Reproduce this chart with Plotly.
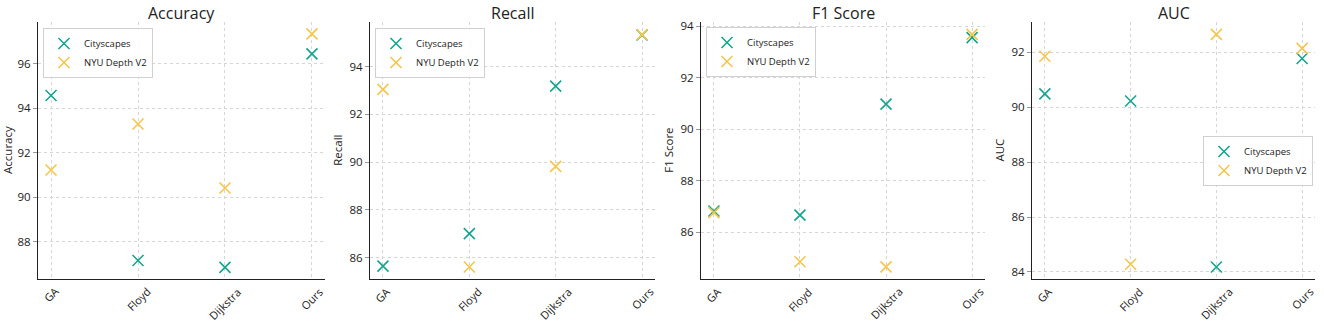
import plotly.graph_objects as go

categories = ["GA", "Floyd", "Dijkstra", "Ours"]
metrics = ["Accuracy", "Recall", "F1 Score", "AUC"]
series_names = ["Cityscapes", "NYU Depth V2"]

accuracy_city = [94.58, 87.16, 86.85, 96.45]
accuracy_nyu = [91.23, 93.30, 90.42, 97.35]
recall_city = [85.64, 87.00, 93.19, 95.33]
recall_nyu = [93.05, 85.60, 89.82, 95.35]
f1_city = [86.82, 86.66, 90.97, 93.55]
f1_nyu = [86.76, 84.85, 84.65, 93.68]
auc_city = [90.49, 90.23, 84.18, 91.78]
auc_nyu = [91.86, 84.28, 92.66, 92.15]

y_ranges = [[86.35, 97.9], [85.12, 95.89], [84.2, 94.17], [83.76, 93.12]]

data = [(accuracy_city, accuracy_nyu), (recall_city, recall_nyu),
        (f1_city, f1_nyu), (auc_city, auc_nyu)]

colors = ["#14a58f", "#f6c54b"]
W, H = 1325, 323
x_px = [(38, 325), (370, 655), (701, 985), (1032, 1315)]
y_bot, y_top = 278.5, 21.7
y_dom = [1 - y_bot / H, 1 - y_top / H]
legend_pos = [(43, 28, "left"), (375, 28, "left"), (706, 27, "left"), (1313, 136, "right")]

fig = go.Figure()
font_family = "Open Sans, DejaVu Sans, sans-serif"
grid_col = "#d6d6d6"

for i, (metric, (cs, ny)) in enumerate(zip(metrics, data)):
    n = "" if i == 0 else str(i + 1)
    leg = "legend" if i == 0 else f"legend{i + 1}"
    for name, vals, col in zip(series_names, (cs, ny), colors):
        fig.add_trace(go.Scatter(
            x=categories, y=vals, mode="markers", name=name,
            xaxis="x" + n, yaxis="y" + n, legend=leg,
            marker=dict(symbol="x-thin", size=11, color=col,
                        line=dict(color=col, width=1.6)),
        ))
    x0, x1 = x_px[i]
    fig.update_layout({
        "xaxis" + n: dict(
            domain=[x0 / W, x1 / W], anchor="y" + n,
            type="category", categoryorder="array", categoryarray=categories,
            range=[-0.15, 3.15], showline=True, linecolor="#222", linewidth=1,
            showgrid=True, gridcolor=grid_col, griddash="dot", gridwidth=1,
            showticklabels=False, ticks="", zeroline=False, automargin=False,
        ),
        "yaxis" + n: dict(
            domain=y_dom, anchor="x" + n, range=y_ranges[i], dtick=2,
            showline=True, linecolor="#222", linewidth=1,
            showgrid=True, gridcolor=grid_col, griddash="dot", gridwidth=1,
            ticks="outside", ticklen=4, tickcolor="#999", tickwidth=1,
            tickfont=dict(size=11.5, color="#222"), zeroline=False, automargin=False,
            title=dict(text=metric, font=dict(size=11.5, color="#222"), standoff=4),
        ),
    })
    for c in categories:
        fig.add_annotation(
            x=c, y=1 - (y_bot + 3) / H, xref="x" + n, yref="paper",
            text=c, textangle=-45, showarrow=False,
            font=dict(size=11, color="#222"),
            xanchor="center", yanchor="top",
        )
    lx, ly, anc = legend_pos[i]
    fig.update_layout({
        leg: dict(
            x=lx / W, y=1 - ly / H, xanchor=anc, yanchor="top",
            bgcolor="rgba(255,255,255,0.9)", bordercolor="#d0d0d0", borderwidth=1,
            font=dict(size=9.5, color="#222", family=font_family),
            tracegroupgap=0, itemwidth=30,
        )
    })
    fig.add_annotation(
        x=(x0 + x1) / 2 / W, y=1 - 13 / H, xref="paper", yref="paper",
        text=metric, showarrow=False, font=dict(size=16, color="#222"),
        xanchor="center", yanchor="middle",
    )

fig.update_layout(
    width=W, height=H, margin=dict(l=0, r=0, t=0, b=0),
    paper_bgcolor="white", plot_bgcolor="white",
    font=dict(family=font_family, color="#222"),
    showlegend=True,
)

fig.write_html(
    "out.html",
    config={"displayModeBar": False},
    post_script="document.body.style.margin='0';document.body.style.overflow='hidden';",
)
